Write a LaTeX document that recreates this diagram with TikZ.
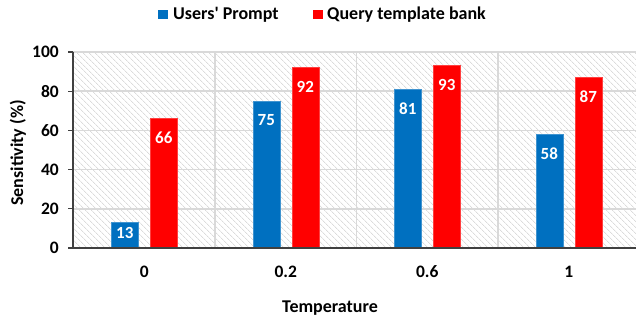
\documentclass[tikz,border=0pt]{standalone}
\usepackage{fontspec}
% Carlito without the TeX quote mapping, so ' stays a straight apostrophe
\newfontfamily\chartfont{Carlito}
\usetikzlibrary{patterns.meta}
\definecolor{userblue}{HTML}{0070C0}
\definecolor{bankred}{HTML}{FF0000}
\definecolor{gridgray}{HTML}{D9D9D9}
\definecolor{hatchgray}{HTML}{C8C8C8}
\definecolor{axisgray}{HTML}{404040}
\tikzset{
  lbl/.style={font=\chartfont\bfseries\fontsize{18}{20}\selectfont, text=black, inner sep=0pt},
  ticklbl/.style={font=\chartfont\bfseries\fontsize{17.5}{20}\selectfont, text=black, inner sep=0pt},
  vallbl/.style={font=\chartfont\bfseries\fontsize{17}{19}\selectfont, text=white, inner sep=0pt},
  gridline/.style={draw=gridgray, line width=1.5pt},
  axisline/.style={draw=axisgray, line width=1.2pt},
  userbar/.style={fill=userblue, draw=userblue!75!white, line width=0.5pt},
  bankbar/.style={fill=bankred, draw=bankred!75!white, line width=0.5pt},
}
\begin{document}
\begin{tikzpicture}[x=1pt, y=-1pt]
  \useasboundingbox (0,0) rectangle (636,320);
  % plot area with hatched background
  \fill[white] (73,52) rectangle (636,248);
  \fill[pattern={Lines[angle=-45, distance=4pt, line width=0.55pt]}, pattern color=hatchgray]
    (73,52) rectangle (636,248);
  % horizontal gridlines
  \foreach \v in {20,40,60,80,100} {
    \draw[gridline] (73,{248-1.96*\v}) -- (636,{248-1.96*\v});
  }
  % vertical gridlines between categories
  \foreach \gx in {215,356.5,498} {
    \draw[gridline] (\gx,52) -- (\gx,248);
  }
  % bars: category centre / users' prompt value / template bank value
  \foreach \c/\u/\b in {144.25/13/66, 285.75/75/92, 427.25/81/93, 568.75/58/87} {
    \draw[userbar] (\c-33,248) rectangle (\c-6,{248-1.96*\u});
    \draw[bankbar] (\c+6,248) rectangle (\c+33,{248-1.96*\b});
  }
  % value labels inside the bars
  \node[vallbl] (u1) at (124.75,233) {13};
  \node[vallbl] (b1) at (163.75,{248-1.96*66+19}) {66};
  \node[vallbl] (u2) at (266.25,{248-1.96*75+19}) {75};
  \node[vallbl] (b2) at (305.25,{248-1.96*92+19}) {92};
  \node[vallbl] (u3) at (407.75,{248-1.96*81+19}) {81};
  \node[vallbl] (b3) at (446.75,{248-1.96*93+19}) {93};
  \node[vallbl] (u4) at (549.25,{248-1.96*58+19}) {58};
  \node[vallbl] (b4) at (588.25,{248-1.96*87+19}) {87};
  % axes and value ticks
  \draw[axisline] (73,52) -- (73,248);
  \draw[axisline] (73,248) -- (636,248);
  \foreach \v in {0,20,40,60,80,100} {
    \draw[axisline] (68,{248-1.96*\v}) -- (73,{248-1.96*\v});
    \node[ticklbl, anchor=east] (y\v) at (59,{248-1.96*\v}) {\v};
  }
  % category labels
  \node[ticklbl] (x1) at (144.25,272) {0};
  \node[ticklbl] (x2) at (285.75,272) {0.2};
  \node[ticklbl] (x3) at (427.25,272) {0.6};
  \node[ticklbl] (x4) at (568.75,272) {1};
  % axis titles
  \node[lbl, anchor=base] (xt) at (330,312) {Temperature};
  \node[lbl, rotate=90, anchor=base] (yt) at (23,153) {Sensitivity (\%)};
  % legend
  \fill[userblue] (158,10.5) rectangle (168,19.5);
  \node[lbl, anchor=base west] (l1) at (173,20) {Users' Prompt};
  \fill[bankred] (313,10.5) rectangle (323,19.5);
  \node[lbl, anchor=base west] (l2) at (327,20) {Query template bank};
\end{tikzpicture}
\end{document}
